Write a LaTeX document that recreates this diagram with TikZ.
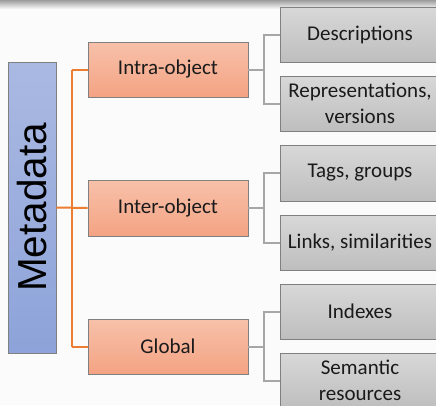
\documentclass[tikz,border=0pt]{standalone}
\usepackage{fontspec}
\setmainfont{Carlito}
\newfontfamily\metafont{Liberation Sans}
\definecolor{bgc}{HTML}{FBFBFB}
\definecolor{bandtop}{HTML}{9C9C9C}
\definecolor{metatop}{HTML}{AAB9E2}
\definecolor{metabot}{HTML}{8DA3D9}
\definecolor{orgtop}{HTML}{F7C1AA}
\definecolor{orgbot}{HTML}{F4A383}
\definecolor{graytop}{HTML}{D8D8D8}
\definecolor{graybot}{HTML}{BEBEBE}
\definecolor{boxline}{HTML}{808080}
\definecolor{orangeline}{HTML}{ED7D31}
\definecolor{grayline}{HTML}{A6A6A6}
\definecolor{txt}{HTML}{1A1A1A}
\tikzset{
  metabox/.style={draw=boxline, line width=0.9pt, top color=metatop, bottom color=metabot,
    minimum width=48pt, minimum height=291pt, inner sep=0pt, text=black},
  orgbox/.style={draw=boxline, line width=0.9pt, top color=orgtop, bottom color=orgbot,
    minimum width=160pt, minimum height=55pt, inner sep=0pt, text=txt, font=\fontsize{21}{26}\selectfont},
  graybox/.style={draw=boxline, line width=0.9pt, top color=graytop, bottom color=graybot,
    minimum width=160pt, minimum height=55pt, inner sep=0pt, text=txt, align=center,
    font=\fontsize{21}{26.5}\selectfont},
  oconn/.style={color=orangeline, line width=2pt},
  gconn/.style={color=grayline, line width=2pt}
}
\begin{document}
\begin{tikzpicture}[x=1pt,y=-1pt]
\path[use as bounding box, clip] (0,0) rectangle (436,405);
\fill[bgc] (0,0) rectangle (436,405);
\shade[top color=bandtop, bottom color=bgc] (0,0) rectangle (436,9);

\node[metabox] (meta) at (32,207.5) {\rotatebox{90}{\metafont\fontsize{40.5}{40}\selectfont Metadata}};

\node[orgbox] (intra) at (168,69.5) {Intra-object};
\node[orgbox, minimum height=56pt] (inter) at (168,208) {Inter-object};
\node[orgbox] (global) at (168,346.5) {Global};

\node[graybox] (desc) at (360,34.5) {Descriptions};
\node[graybox] (rep) at (360,103.5) {Representations,\\versions};
\node[graybox, minimum height=56pt] (tags) at (360,173) {Tags, groups};
\node[graybox] (links) at (360,242.5) {Links, similarities};
\node[graybox] (idx) at (360,311.5) {Indexes};
\node[graybox] (sem) at (360,380.5) {Semantic\\resources};

\coordinate (ttop) at ([xshift=-16pt]intra.west);
\coordinate (tbot) at ([xshift=-16pt]global.west);
\draw[oconn] (meta.east) -- (inter.west);
\draw[oconn] (intra.west) -- (ttop);
\draw[oconn] (ttop) -- (tbot);
\draw[oconn] (tbot) -- (global.west);

\draw[gconn] (intra.east) -- ++(16,0) coordinate (j1);
\draw[gconn] (desc.west) -| (j1) |- (rep.west);
\draw[gconn] (inter.east) -- ++(16,0) coordinate (j2);
\draw[gconn] (tags.west) -| (j2) |- (links.west);
\draw[gconn] (global.east) -- ++(16,0) coordinate (j3);
\draw[gconn] (idx.west) -| (j3) |- (sem.west);
\end{tikzpicture}
\end{document}
